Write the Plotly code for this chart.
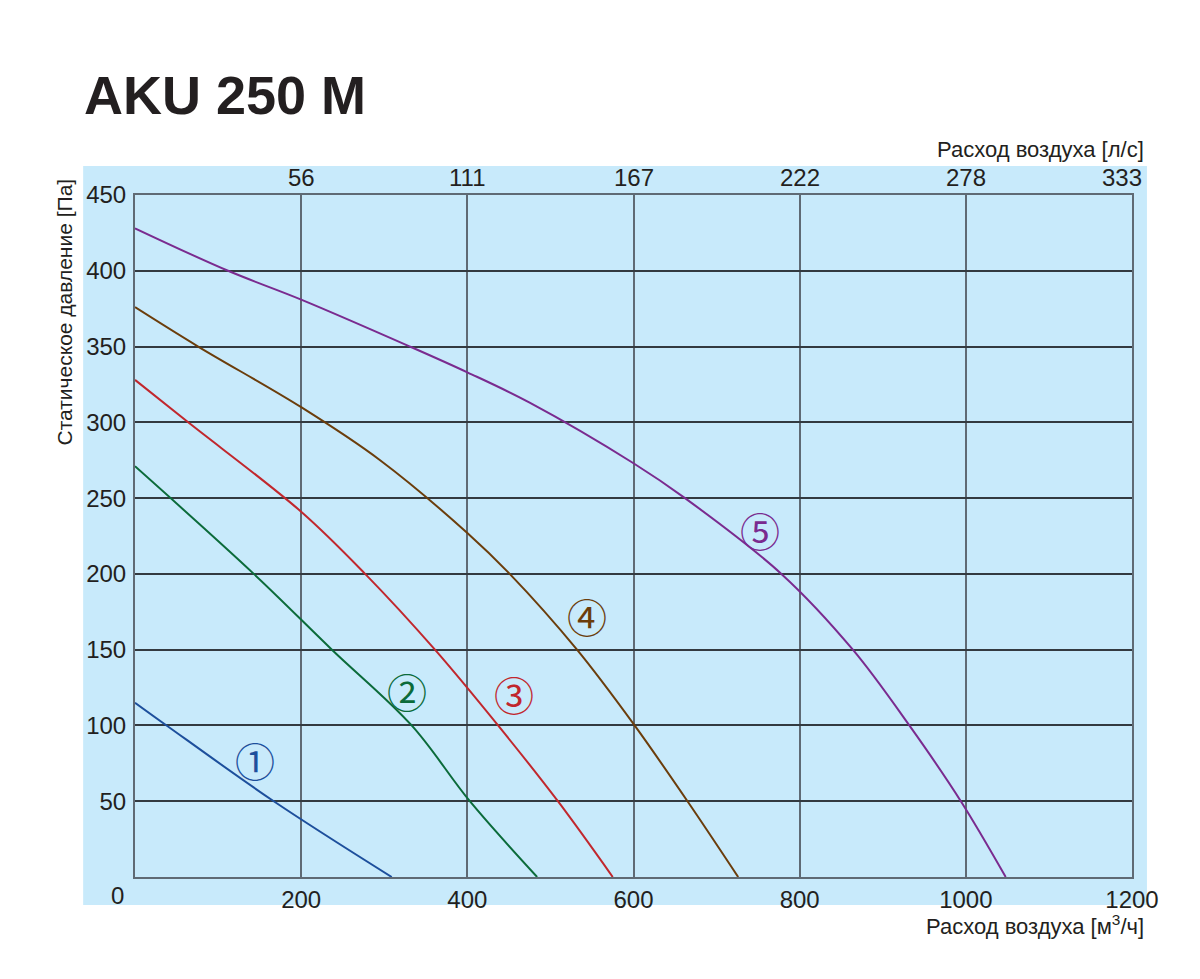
import plotly.graph_objects as go

# fan curves, air flow m3/h vs static pressure Pa
flow_1 = [0, 38, 167, 309]
pres_1 = [115, 100, 50, 0]

flow_2 = [0, 143, 237, 333, 403, 484]
pres_2 = [271, 200, 150, 100, 50, 0]

flow_3 = [0, 64, 200, 277, 361, 437, 509, 575]
pres_3 = [328, 300, 241, 200, 150, 100, 50, 0]

flow_4 = [0, 76, 200, 295, 400, 451, 532, 600, 665, 726]
pres_4 = [376, 350, 310, 275, 227, 200, 150, 101, 50, 0]

flow_5 = [0, 112, 200, 331, 400, 475, 600, 662, 778, 864, 932, 994, 1048]
pres_5 = [428, 400, 381, 350, 333, 313, 273, 250, 200, 150, 100, 50, 0]

curve_labels = ["①", "②", "③", "④", "⑤"]
curve_colors = ["#1d4f9c", "#0b6b3a", "#c1272d", "#6b3d0b", "#7a2b8f"]

x_ticks = [200, 400, 600, 800, 1000, 1200]
x_ticks_ls = ["56", "111", "167", "222", "278", "333"]
y_ticks = [50, 100, 150, 200, 250, 300, 350, 400, 450]

bg = "#c8eafb"
font = "Liberation Sans, Arial, sans-serif"
txt = "#231f20"

fig = go.Figure()

curves = [(flow_1, pres_1), (flow_2, pres_2), (flow_3, pres_3), (flow_4, pres_4), (flow_5, pres_5)]
for (fx, py), c in zip(curves, curve_colors):
    fig.add_trace(go.Scatter(x=fx, y=py, mode="lines", line=dict(color=c, width=2, shape="spline", smoothing=1.0),
                             showlegend=False, hoverinfo="skip"))

# circled curve numbers
label_pos = [(144, 77), (327, 123), (456, 121), (544, 172), (752, 229)]
for lab, (lx, ly), c in zip(curve_labels, label_pos, curve_colors):
    fig.add_annotation(x=lx, y=ly, text=lab, showarrow=False,
                       font=dict(family="Noto Sans CJK JP", size=40, color=c))

# page has an 8px body margin, so the figure is a bit smaller than the window
fig.update_layout(
    width=1184, height=963,
    margin=dict(l=127, r=60, t=187, b=94),
    paper_bgcolor="white", plot_bgcolor=bg,
    font=dict(family=font, size=24, color=txt),
    showlegend=False,
    xaxis=dict(range=[0, 1200], tickvals=x_ticks, showgrid=True, gridcolor="#5f6a74", gridwidth=1.5,
               showline=True, mirror=True, linecolor="#5f6a74", linewidth=2, zeroline=False,
               ticks="", ticklen=0),
    yaxis=dict(range=[0, 450], tickvals=y_ticks, showgrid=True, gridcolor="#333a40", gridwidth=1.5,
               showline=True, mirror=True, linecolor="#5f6a74", linewidth=2, zeroline=False,
               ticks="outside", ticklen=2, tickcolor="rgba(0,0,0,0)"),
)

# light blue panel behind the axes
fig.add_shape(type="rect", xref="paper", yref="paper", x0=-0.052, x1=1.015, y0=-0.041, y1=1.0425,
              fillcolor=bg, line_width=0, layer="below")

# top scale in l/s
for tv, tt in zip(x_ticks, x_ticks_ls):
    last = tv == x_ticks[-1]
    fig.add_annotation(x=tv, xref="x", yref="paper", y=1.025, text=tt, showarrow=False,
                       xanchor="right" if last else "center", xshift=12 if last else 0,
                       yanchor="middle", font=dict(size=24))

# title and axis captions
fig.add_annotation(xref="paper", yref="paper", x=-0.053, y=1.147, xanchor="left", yanchor="middle",
                   text="<b>AKU 250 M</b>", showarrow=False, font=dict(family=font, size=54, color=txt))
fig.add_annotation(xref="paper", yref="paper", x=1.014, y=1.066, xanchor="right", yanchor="middle",
                   text="Расход воздуха [л/с]", showarrow=False, font=dict(size=22))
fig.add_annotation(xref="paper", yref="paper", x=1.014, y=-0.07, xanchor="right", yanchor="middle",
                   text="Расход воздуха [м<sup>3</sup>/ч]", showarrow=False, font=dict(size=22))
fig.add_annotation(xref="paper", yref="paper", x=-0.071, y=0.828, xanchor="center", yanchor="middle",
                   text="Статическое давление [Па]", textangle=-90, showarrow=False, font=dict(size=21))
fig.add_annotation(xref="paper", yref="paper", x=-0.018, y=-0.027, xanchor="center", yanchor="middle",
                   text="0", showarrow=False, font=dict(size=24))

fig.write_html("out.html")
